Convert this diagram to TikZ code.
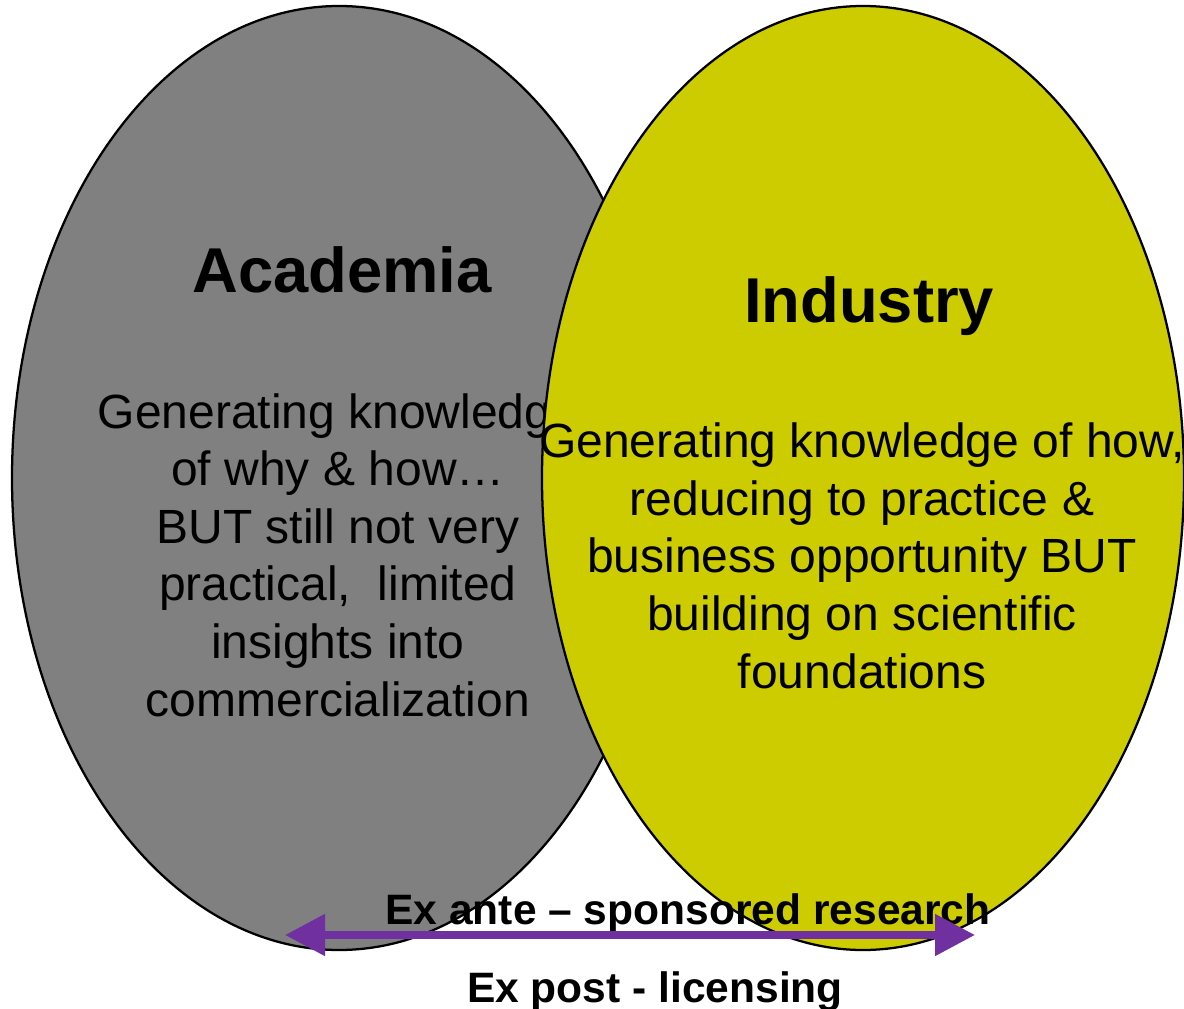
\documentclass[tikz,border=0pt]{standalone}
\usepackage{fontspec}
\setmainfont{Liberation Sans}
\usetikzlibrary{shapes.geometric,arrows.meta}
\definecolor{acadgray}{HTML}{808080}
\definecolor{indyellow}{HTML}{CCCC00}
\definecolor{arrowpurple}{HTML}{7030A0}
\begin{document}
\begin{tikzpicture}[x=0.75pt,y=-0.75pt,
  blob/.style={ellipse, draw=black, line width=1.7pt, inner sep=0pt, outer sep=0pt},
  headtext/.style={font=\fontsize{47.5}{57}\selectfont\bfseries, inner sep=0pt, anchor=base},
  bodytext/.style={font=\fontsize{36}{43.2}\selectfont, align=center, inner sep=0pt, anchor=base},
  arrowtext/.style={font=\fontsize{31.9}{38}\selectfont\bfseries, inner sep=0pt, anchor=base},
  bigtri/.tip={Triangle[length=30pt,width=30pt]}]
\useasboundingbox (0,0) rectangle (1184,1009);
\node[blob, fill=acadgray, minimum width=490.5pt, minimum height=708pt] (acad) at (339,478) {};
\node[bodytext] (acadtext) at (338,716) {Generating knowledge\\of why \& how…\\BUT still not very\\practical,\ \ limited\\insights into\\commercialization};
\node[blob, fill=indyellow, minimum width=481.5pt, minimum height=708pt] (ind) at (863,478) {};
\node[bodytext] (indtext) at (862,688) {Generating knowledge of how,\\reducing to practice \&\\business opportunity BUT\\building on scientific\\foundations};
\node[headtext] (acadtitle) at (342,292) {Academia};
\node[headtext] (indtitle) at (869,322) {Industry};
\node[arrowtext] (exante) at (688,924) {Ex ante – sponsored research};
\coordinate (aleft) at (285,935);
\coordinate (aright) at (975,935);
\draw[arrowpurple, line width=6pt, {bigtri}-{bigtri}] (aleft) -- (aright);
\node[arrowtext] (expost) at (655,1002) {Ex post - licensing};
\end{tikzpicture}
\end{document}
